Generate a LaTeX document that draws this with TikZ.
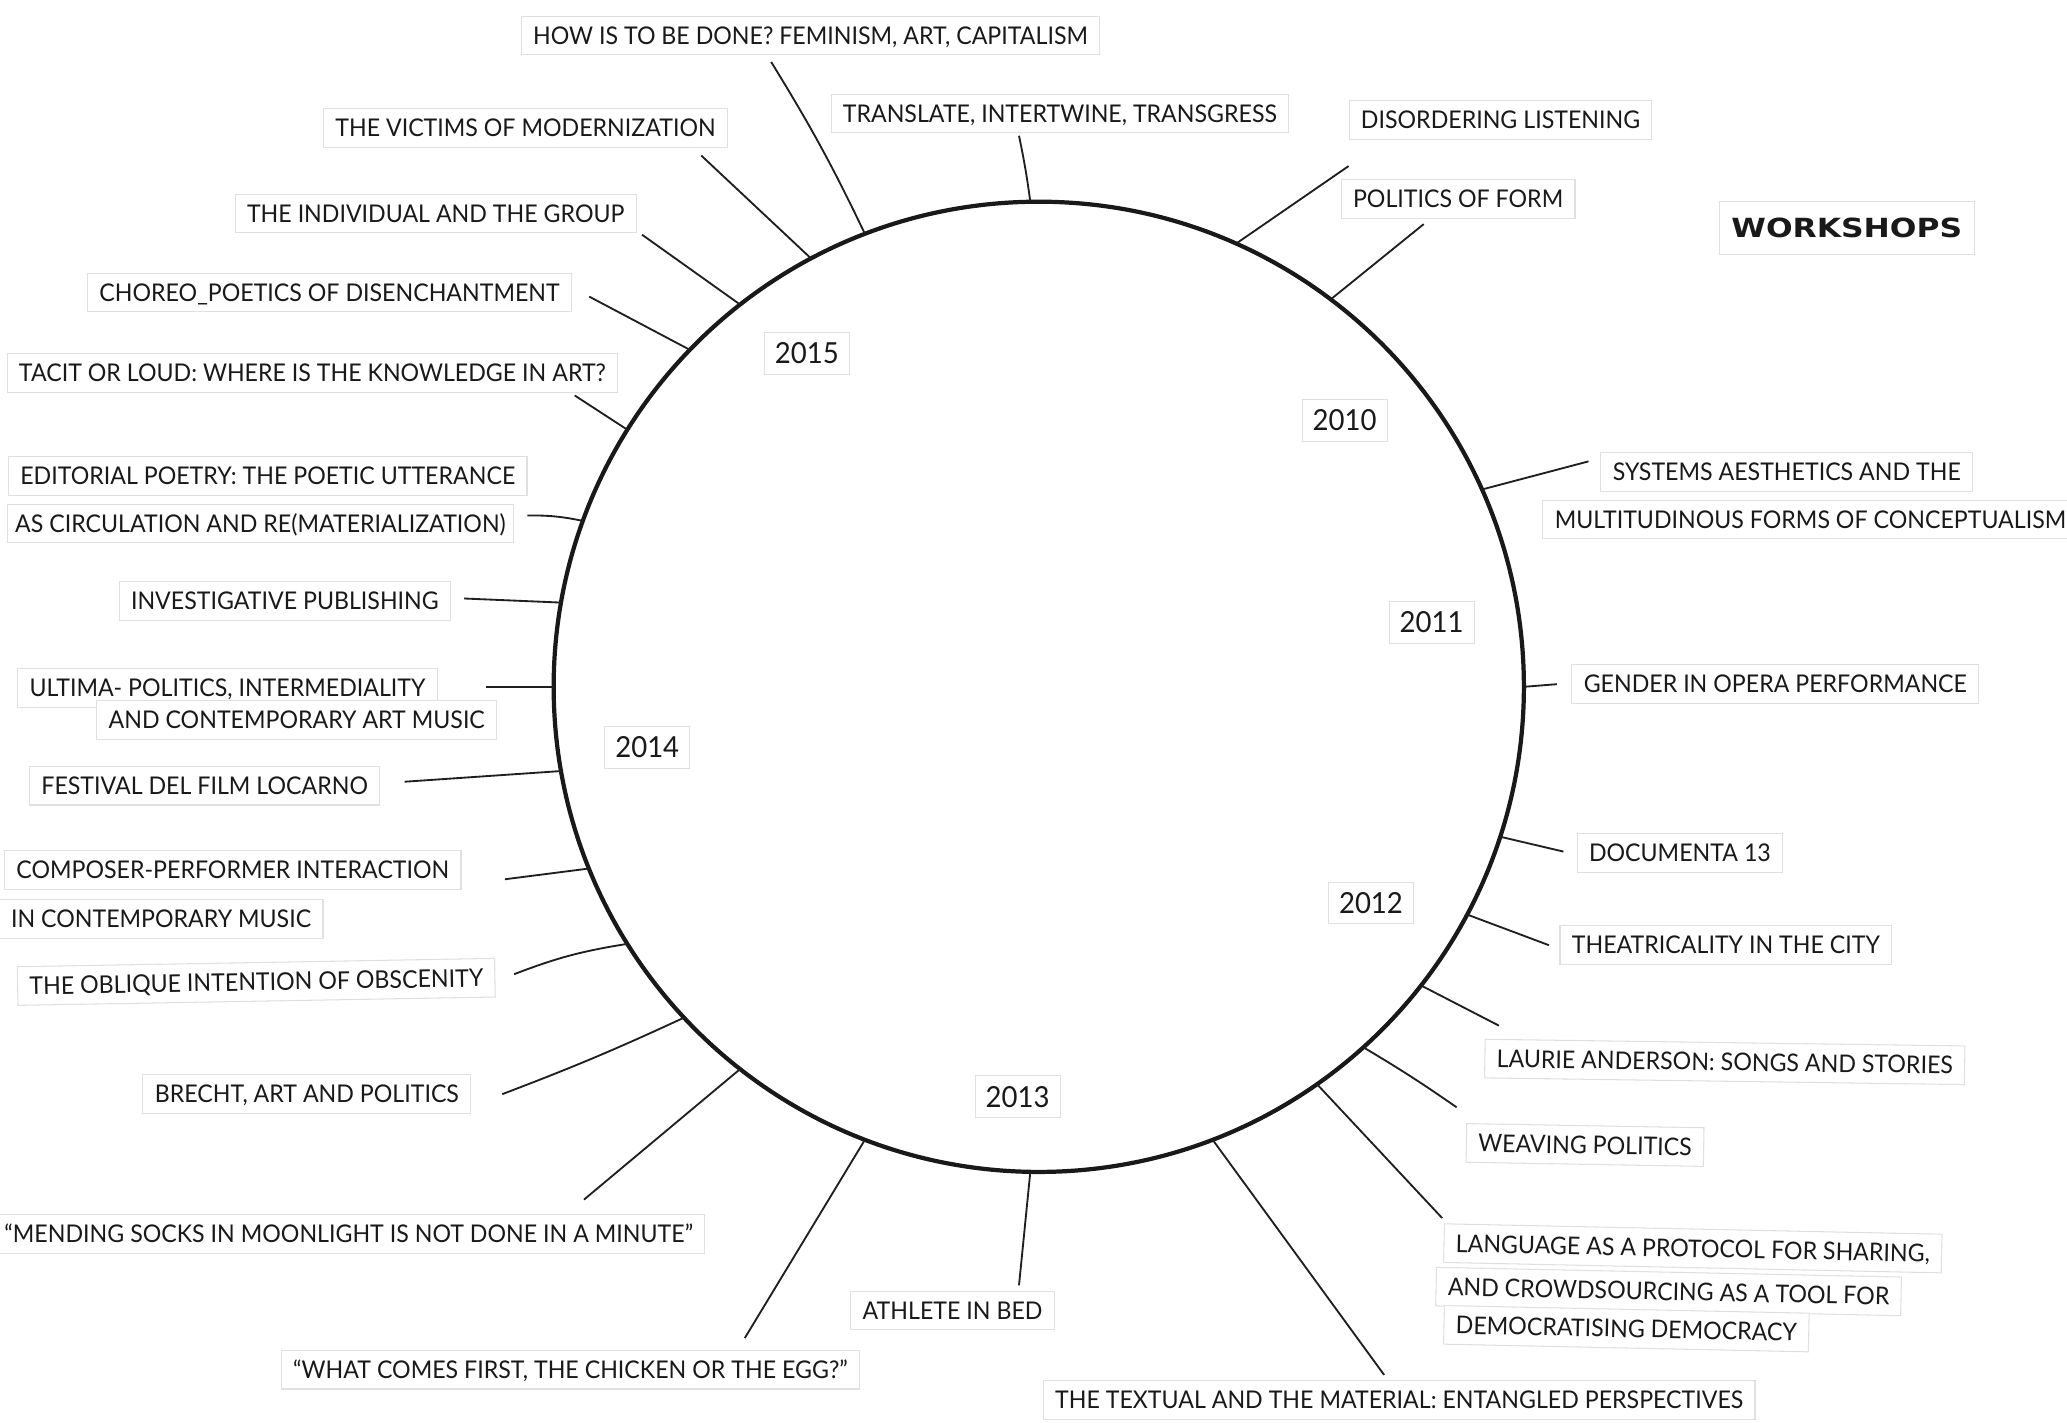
\documentclass[tikz,border=0pt]{standalone}
\usepackage{fontspec}
\setmainfont{Lato}[FakeStretch=0.95]
\newfontfamily\ttlfont{DejaVu Sans}[FakeStretch=1.19]
\begin{document}
\begin{tikzpicture}[x=1pt,y=-1pt,
  strip/.style={draw=black!12, line width=0.8pt, fill=white, inner xsep=9pt, inner ysep=8pt,
    text height=13.3pt, text depth=0pt, anchor=west, font=\fontsize{18.5}{20}\selectfont, text=black!90},
  yr/.style={strip, anchor=center, font=\fontsize{22}{24}\selectfont, text height=15.8pt, inner xsep=8pt, inner ysep=8pt},
  conn/.style={line width=1.4pt, draw=black!88},
]
\clip (0,0) rectangle (1568,1079);
\fill[white] (0,0) rectangle (1568,1079);

% circle
\node[circle, draw=black!90, line width=3.2pt, minimum size=736pt, inner sep=0pt, outer sep=0pt] (C) at (788,521) {};

% labels
\node[strip] (l1) at (395,27) {HOW IS TO BE DONE? FEMINISM, ART, CAPITALISM};
\node[strip] (l2) at (630,86) {TRANSLATE, INTERTWINE, TRANSGRESS};
\node[strip] (l3) at (245,97) {THE VICTIMS OF MODERNIZATION};
\node[strip] (l4) at (178,162) {THE INDIVIDUAL AND THE GROUP};
\node[strip] (l5) at (66,222) {CHOREO\_POETICS OF DISENCHANTMENT};
\node[strip] (l6) at (5,283) {TACIT OR LOUD: WHERE IS THE KNOWLEDGE IN ART?};
\node[strip] (l7) at (6,361) {EDITORIAL POETRY: THE POETIC UTTERANCE};
\node[strip, anchor=east, inner xsep=6pt] (l7b) at (390,397) {AS CIRCULATION AND RE(MATERIALIZATION)};
\node[strip] (l8) at (90,456) {INVESTIGATIVE PUBLISHING};
\node[strip] (l9) at (13,522) {ULTIMA- POLITICS, INTERMEDIALITY};
\node[strip] (l9b) at (73,546) {AND CONTEMPORARY ART MUSIC};
\node[strip] (l10) at (22,596) {FESTIVAL DEL FILM LOCARNO};
\node[strip] (l11) at (3,660) {COMPOSER-PERFORMER INTERACTION};
\node[strip] (l11b) at (-1,697) {IN CONTEMPORARY MUSIC};
\node[strip, rotate=1] (l12) at (13,748) {THE OBLIQUE INTENTION OF OBSCENITY};
\node[strip] (l13) at (108,830) {BRECHT, ART AND POLITICS};
\node[strip] (l14) at (-6,936) {“MENDING SOCKS IN MOONLIGHT IS NOT DONE IN A MINUTE”};
\node[strip] (l15) at (213,1039) {“WHAT COMES FIRST, THE CHICKEN OR THE EGG?”};
\node[strip] (l16) at (645,994) {ATHLETE IN BED};
\node[strip] (l17) at (791,1062) {THE TEXTUAL AND THE MATERIAL: ENTANGLED PERSPECTIVES};
\node[strip, rotate=-1.2] (l18) at (1095,943) {LANGUAGE AS A PROTOCOL FOR SHARING,};
\node[strip, rotate=-1.2] (l18b) at (1089,976) {AND CROWDSOURCING AS A TOOL FOR};
\node[strip, rotate=-1.2] (l18c) at (1095,1005) {DEMOCRATISING DEMOCRACY};
\node[strip, rotate=-1] (l19) at (1112,867) {WEAVING POLITICS};
\node[strip, rotate=-0.8] (l20) at (1126,803) {LAURIE ANDERSON: SONGS AND STORIES};
\node[strip] (l21) at (1183,717) {THEATRICALITY IN THE CITY};
\node[strip] (l22) at (1196,647) {DOCUMENTA 13};
\node[strip] (l23) at (1192,519) {GENDER IN OPERA PERFORMANCE};
\node[strip] (l24) at (1214,358) {SYSTEMS AESTHETICS AND THE};
\node[strip] (l24b) at (1170,394) {MULTITUDINOUS FORMS OF CONCEPTUALISM};
\node[strip] (l25) at (1017,151) {POLITICS OF FORM};
\node[strip] (l26) at (1023,91) {DISORDERING LISTENING};
\node[strip, font=\ttlfont\bfseries\fontsize{20}{22}\selectfont, text height=14.6pt, inner ysep=13pt] (ttl) at (1304,173) {WORKSHOPS};

% years
\node[yr] (y15) at (612,268) {2015};
\node[yr] (y10) at (1020,319) {2010};
\node[yr] (y11) at (1086,472) {2011};
\node[yr] (y14) at (491,567) {2014};
\node[yr] (y12) at (1040,685) {2012};
\node[yr] (y13) at (772,832) {2013};

% connector free ends
\coordinate (e1) at (585,47);
\coordinate (e2) at (773,103);
\coordinate (e3) at (532,118);
\coordinate (e4) at (487,178);
\coordinate (e5) at (447,225);
\coordinate (e6) at (436,300);
\coordinate (e7) at (400,391);
\coordinate (e8) at (352,454);
\coordinate (e9) at (369,521);
\coordinate (e10) at (307,593);
\coordinate (e11) at (383,667);
\coordinate (e12) at (390,739);
\coordinate (e13) at (381,830);
\coordinate (e14) at (443,910);
\coordinate (e15) at (565,1015);
\coordinate (e16) at (773,975);
\coordinate (e17) at (1050,1043);
\coordinate (e18) at (1094,924);
\coordinate (e19) at (1105,840);
\coordinate (e20) at (1137,778);
\coordinate (e21) at (1175,717);
\coordinate (e22) at (1186,646);
\coordinate (e23) at (1181,519);
\coordinate (e24) at (1205,350);
\coordinate (e25) at (1080,170);
\coordinate (e26) at (1023,126);

% connectors
\draw[conn] (e1) to[bend left=3] (C.111.9);
\draw[conn] (e2) to[bend left=2] (C.91.9);
\draw[conn] (e3) -- (C.118.4);
\draw[conn] (e4) -- (C.128.6);
\draw[conn] (e5) -- (C.136.9);
\draw[conn] (e6) -- (C.148.1);
\draw[conn] (e7) to[bend left=6] (C.160.5);
\draw[conn] (e8) -- (C.170.6);
\draw[conn] (e9) -- (C.180.2);
\draw[conn] (e10) -- (C.190.9);
\draw[conn] (e11) -- (C.202.6);
\draw[conn] (e12) to[bend left=6] (C.212.6);
\draw[conn] (e13) to[bend right=2] (C.223);
\draw[conn] (e14) -- (C.232.3);
\draw[conn] (e15) -- (C.249.7);
\draw[conn] (e16) -- (C.269.2);
\draw[conn] (e17) -- (C.291.7);
\draw[conn] (e18) -- (C.305.2);
\draw[conn] (e19) to[bend right=2] (C.312.8);
\draw[conn] (e20) -- (C.322.3);
\draw[conn] (e21) -- (C.332.5);
\draw[conn] (e22) -- (C.342.5);
\draw[conn] (e23) -- (C.0.3);
\draw[conn] (e24) -- (C.24.5);
\draw[conn] (e25) -- (C.53);
\draw[conn] (e26) -- (C.66.2);
\end{tikzpicture}
\end{document}
